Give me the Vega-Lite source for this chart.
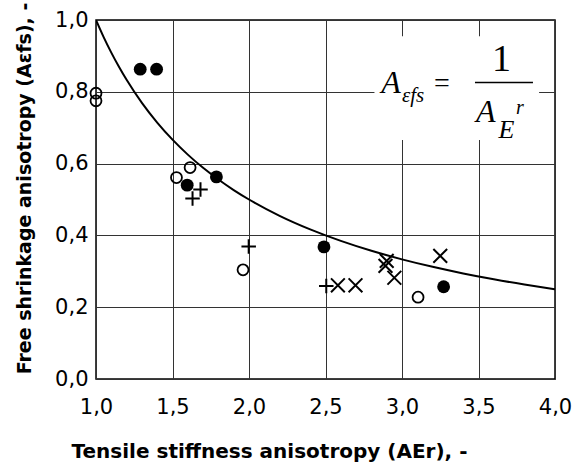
{
  "$schema": "https://vega.github.io/schema/vega-lite/v6.json",
  "width": 459,
  "height": 359,
  "autosize": {"type": "none"},
  "padding": {"left": 96, "top": 20, "right": 21, "bottom": 91},
  "background": "white",
  "config": {
    "view": {"stroke": "black", "strokeWidth": 1.5}
  },
  "datasets": {
    "points": [
      {"x": 1.289, "y": 0.863, "group": "filled"},
      {"x": 1.396, "y": 0.863, "group": "filled"},
      {"x": 1.596, "y": 0.54, "group": "filled"},
      {"x": 1.787, "y": 0.563, "group": "filled"},
      {"x": 2.49, "y": 0.368, "group": "filled"},
      {"x": 3.272, "y": 0.257, "group": "filled"},
      {"x": 1.0, "y": 0.796, "group": "open"},
      {"x": 1.0, "y": 0.775, "group": "open"},
      {"x": 1.615, "y": 0.589, "group": "open"},
      {"x": 1.526, "y": 0.561, "group": "open"},
      {"x": 1.961, "y": 0.304, "group": "open"},
      {"x": 3.105, "y": 0.228, "group": "open"},
      {"x": 1.683, "y": 0.528, "group": "plus"},
      {"x": 1.631, "y": 0.503, "group": "plus"},
      {"x": 1.998, "y": 0.369, "group": "plus"},
      {"x": 2.505, "y": 0.259, "group": "plus"},
      {"x": 2.581, "y": 0.261, "group": "cross"},
      {"x": 2.696, "y": 0.261, "group": "cross"},
      {"x": 2.9, "y": 0.329, "group": "cross"},
      {"x": 2.892, "y": 0.315, "group": "cross"},
      {"x": 2.95, "y": 0.282, "group": "cross"},
      {"x": 3.25, "y": 0.343, "group": "cross"}
    ],
    "curve": [
      {"x": 1.0, "y": 1.0}, {"x": 1.05, "y": 0.9524}, {"x": 1.1, "y": 0.9091},
      {"x": 1.15, "y": 0.8696}, {"x": 1.2, "y": 0.8333}, {"x": 1.3, "y": 0.7692},
      {"x": 1.4, "y": 0.7143}, {"x": 1.5, "y": 0.6667}, {"x": 1.6, "y": 0.625},
      {"x": 1.7, "y": 0.5882}, {"x": 1.8, "y": 0.5556}, {"x": 1.9, "y": 0.5263},
      {"x": 2.0, "y": 0.5}, {"x": 2.2, "y": 0.4545}, {"x": 2.4, "y": 0.4167},
      {"x": 2.6, "y": 0.3846}, {"x": 2.8, "y": 0.3571}, {"x": 3.0, "y": 0.3333},
      {"x": 3.2, "y": 0.3125}, {"x": 3.4, "y": 0.2941}, {"x": 3.6, "y": 0.2778},
      {"x": 3.8, "y": 0.2632}, {"x": 4.0, "y": 0.25}
    ],
    "box": [{"x": 2.82, "x2": 3.896, "y": 0.955, "y2": 0.666}],
    "fracline": [{"x": 3.477, "x2": 3.856, "y": 0.826}],
    "bigA": [{"x": 2.865, "y": 0.796, "t": "A"}, {"x": 3.483, "y": 0.717, "t": "A"}],
    "sub1": [{"x": 3.0, "y": 0.772, "t": "εfs"}],
    "eq": [{"x": 3.26, "y": 0.822, "t": "="}],
    "one": [{"x": 3.65, "y": 0.858, "t": "1"}],
    "subE": [{"x": 3.63, "y": 0.672, "t": "E"}],
    "supR": [{"x": 3.745, "y": 0.738, "t": "r"}]
  },
  "layer": [
    {
      "data": {"name": "box"},
      "mark": {"type": "rect", "fill": "white"},
      "encoding": {
        "x": {"field": "x", "type": "quantitative", "scale": {"domain": [1, 4], "nice": false, "zero": false},
          "axis": {"values": [1, 1.5, 2, 2.5, 3, 3.5, 4], "labelPadding": 17, "labelFlush": false,
            "labelExpr": "replace(format(datum.value, '.1f'), '.', ',')",
            "labelFont": "DejaVu Sans", "labelFontSize": 21, "labelColor": "black",
            "ticks": false, "domain": false, "grid": true, "gridColor": "#333333", "gridWidth": 1, "gridOpacity": 1,
            "title": "Tensile stiffness anisotropy (AEr), -", "titleFont": "DejaVu Sans", "titleFontSize": 20,
            "titleFontWeight": "bold", "titleColor": "black", "titlePadding": 24, "titleX": 173}},
        "x2": {"field": "x2"},
        "y": {"field": "y", "type": "quantitative", "scale": {"domain": [0, 1], "nice": false},
          "axis": {"values": [0, 0.2, 0.4, 0.6, 0.8, 1], "labelPadding": 8, "labelFlush": false,
            "labelExpr": "replace(format(datum.value, '.1f'), '.', ',')",
            "labelFont": "DejaVu Sans", "labelFontSize": 21, "labelColor": "black",
            "ticks": false, "domain": false, "grid": true, "gridColor": "#333333", "gridWidth": 1, "gridOpacity": 1,
            "title": "Free shrinkage anisotropy (Aεfs), -", "titleFont": "DejaVu Sans", "titleFontSize": 19,
            "titleFontWeight": "bold", "titleColor": "black", "titlePadding": 20, "titleY": 168}},
        "y2": {"field": "y2"}
      }
    },
    {
      "data": {"name": "curve"},
      "mark": {"type": "line", "color": "black", "strokeWidth": 2, "interpolate": "monotone", "clip": true},
      "encoding": {
        "x": {"field": "x", "type": "quantitative"},
        "y": {"field": "y", "type": "quantitative"}
      }
    },
    {
      "data": {"name": "points"},
      "transform": [{"filter": "datum.group == 'filled'"}],
      "mark": {"type": "point", "shape": "circle", "filled": true, "fill": "black", "stroke": "black", "strokeWidth": 0, "size": 165, "opacity": 1},
      "encoding": {
        "x": {"field": "x", "type": "quantitative"},
        "y": {"field": "y", "type": "quantitative"}
      }
    },
    {
      "data": {"name": "points"},
      "transform": [{"filter": "datum.group == 'open'"}],
      "mark": {"type": "point", "shape": "circle", "filled": false, "fill": "white", "fillOpacity": 0, "stroke": "black", "strokeWidth": 1.8, "size": 120, "opacity": 1},
      "encoding": {
        "x": {"field": "x", "type": "quantitative"},
        "y": {"field": "y", "type": "quantitative"}
      }
    },
    {
      "data": {"name": "points"},
      "transform": [{"filter": "datum.group == 'plus'"}],
      "mark": {"type": "point", "shape": "M-1,0L1,0M0,-1L0,1", "filled": false, "stroke": "black", "strokeWidth": 2, "size": 210, "opacity": 1},
      "encoding": {
        "x": {"field": "x", "type": "quantitative"},
        "y": {"field": "y", "type": "quantitative"}
      }
    },
    {
      "data": {"name": "points"},
      "transform": [{"filter": "datum.group == 'cross'"}],
      "mark": {"type": "point", "shape": "M-1,-1L1,1M-1,1L1,-1", "filled": false, "stroke": "black", "strokeWidth": 2, "size": 190, "opacity": 1},
      "encoding": {
        "x": {"field": "x", "type": "quantitative"},
        "y": {"field": "y", "type": "quantitative"}
      }
    },
    {
      "data": {"name": "fracline"},
      "mark": {"type": "rule", "color": "black", "strokeWidth": 1.5},
      "encoding": {
        "x": {"field": "x", "type": "quantitative"},
        "x2": {"field": "x2"},
        "y": {"field": "y", "type": "quantitative"}
      }
    },
    {
      "data": {"name": "bigA"},
      "mark": {"type": "text", "font": "Liberation Serif", "fontStyle": "italic", "fontSize": 32, "align": "left", "baseline": "alphabetic", "color": "black"},
      "encoding": {
        "x": {"field": "x", "type": "quantitative"},
        "y": {"field": "y", "type": "quantitative"},
        "text": {"field": "t"}
      }
    },
    {
      "data": {"name": "sub1"},
      "mark": {"type": "text", "font": "Liberation Serif", "fontStyle": "italic", "fontSize": 21, "align": "left", "baseline": "alphabetic", "color": "black"},
      "encoding": {
        "x": {"field": "x", "type": "quantitative"},
        "y": {"field": "y", "type": "quantitative"},
        "text": {"field": "t"}
      }
    },
    {
      "data": {"name": "eq"},
      "mark": {"type": "text", "font": "Liberation Serif", "fontSize": 28, "align": "center", "baseline": "middle", "color": "black"},
      "encoding": {
        "x": {"field": "x", "type": "quantitative"},
        "y": {"field": "y", "type": "quantitative"},
        "text": {"field": "t"}
      }
    },
    {
      "data": {"name": "one"},
      "mark": {"type": "text", "font": "Liberation Serif", "fontSize": 38, "align": "center", "baseline": "alphabetic", "color": "black"},
      "encoding": {
        "x": {"field": "x", "type": "quantitative"},
        "y": {"field": "y", "type": "quantitative"},
        "text": {"field": "t"}
      }
    },
    {
      "data": {"name": "subE"},
      "mark": {"type": "text", "font": "Liberation Serif", "fontStyle": "italic", "fontSize": 26, "align": "left", "baseline": "alphabetic", "color": "black"},
      "encoding": {
        "x": {"field": "x", "type": "quantitative"},
        "y": {"field": "y", "type": "quantitative"},
        "text": {"field": "t"}
      }
    },
    {
      "data": {"name": "supR"},
      "mark": {"type": "text", "font": "Liberation Serif", "fontStyle": "italic", "fontSize": 20, "align": "left", "baseline": "alphabetic", "color": "black"},
      "encoding": {
        "x": {"field": "x", "type": "quantitative"},
        "y": {"field": "y", "type": "quantitative"},
        "text": {"field": "t"}
      }
    }
  ]
}
